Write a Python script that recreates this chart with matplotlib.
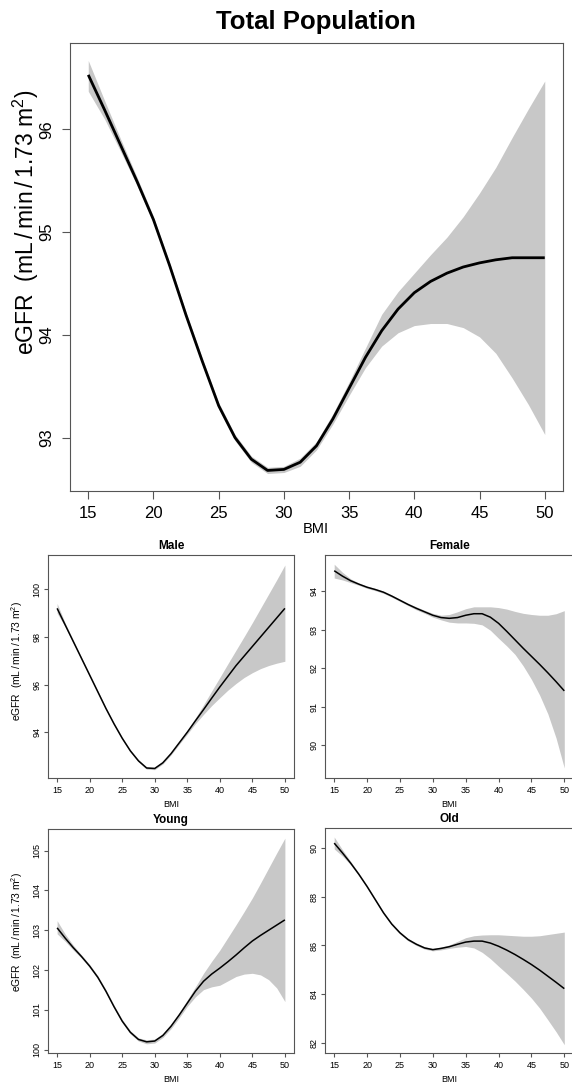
import numpy as np
import matplotlib
matplotlib.use('Agg')
import matplotlib.pyplot as plt

plt.rcParams['font.family'] = ['Liberation Sans', 'DejaVu Sans']
plt.rcParams['mathtext.fontset'] = 'custom'
plt.rcParams['mathtext.rm'] = 'Liberation Sans'

# ---- data (fitted eGFR and its band) ----
bmi = [15, 16.25, 17.5, 18.75, 20, 21.25, 22.5, 23.75, 25, 26.25, 27.5, 28.75, 30,
       31.25, 32.5, 33.75, 35, 36.25, 37.5, 38.75, 40, 41.25, 42.5, 43.75, 45,
       46.25, 47.5, 48.75, 50]

total_fit = [96.53, 96.19, 95.84, 95.49, 95.12, 94.67, 94.19, 93.74, 93.31, 93.00, 92.79, 92.68, 92.69,
             92.76, 92.92, 93.18, 93.48, 93.78, 94.04, 94.25, 94.41, 94.52, 94.60, 94.66, 94.70,
             94.73, 94.75, 94.75, 94.75]
total_hi = [96.67, 96.28, 95.90, 95.53, 95.15, 94.70, 94.22, 93.77, 93.34, 93.03, 92.82, 92.71, 92.72,
            92.80, 92.96, 93.23, 93.54, 93.87, 94.20, 94.42, 94.60, 94.78, 94.95, 95.15, 95.38,
            95.63, 95.92, 96.20, 96.47]
total_lo = [96.37, 96.10, 95.78, 95.45, 95.09, 94.64, 94.16, 93.71, 93.28, 92.97, 92.76, 92.65, 92.66,
            92.72, 92.88, 93.13, 93.41, 93.68, 93.89, 94.02, 94.09, 94.11, 94.11, 94.07, 93.98,
            93.82, 93.58, 93.32, 93.03]

male_fit = [99.20, 98.50, 97.80, 97.10, 96.40, 95.70, 95.00, 94.35, 93.75, 93.22, 92.80, 92.50, 92.48,
            92.72, 93.10, 93.55, 94.00, 94.48, 94.95, 95.43, 95.90, 96.35, 96.80, 97.20, 97.60,
            98.00, 98.40, 98.80, 99.20]
male_hi = [99.41, 98.58, 97.86, 97.15, 96.45, 95.75, 95.05, 94.40, 93.80, 93.27, 92.85, 92.55, 92.53,
           92.77, 93.15, 93.61, 94.08, 94.60, 95.15, 95.73, 96.30, 96.88, 97.45, 98.02, 98.60,
           99.20, 99.80, 100.40, 101.02]
male_lo = [99.00, 98.42, 97.74, 97.05, 96.35, 95.65, 94.95, 94.30, 93.70, 93.17, 92.75, 92.45, 92.43,
           92.67, 93.05, 93.49, 93.92, 94.36, 94.75, 95.12, 95.45, 95.77, 96.05, 96.30, 96.50,
           96.67, 96.80, 96.90, 96.98]

female_fit = [94.54, 94.40, 94.28, 94.19, 94.11, 94.05, 93.98, 93.88, 93.77, 93.66, 93.56, 93.47, 93.38,
              93.32, 93.30, 93.32, 93.38, 93.42, 93.42, 93.33, 93.17, 92.96, 92.74, 92.52, 92.31,
              92.10, 91.88, 91.65, 91.41]
female_hi = [94.71, 94.50, 94.33, 94.22, 94.14, 94.08, 94.01, 93.91, 93.80, 93.69, 93.60, 93.51, 93.43,
             93.38, 93.40, 93.47, 93.55, 93.60, 93.60, 93.60, 93.58, 93.54, 93.48, 93.43, 93.40,
             93.38, 93.38, 93.42, 93.50]
female_lo = [94.35, 94.30, 94.23, 94.16, 94.08, 94.02, 93.95, 93.85, 93.74, 93.63, 93.52, 93.43, 93.33,
             93.26, 93.20, 93.18, 93.18, 93.17, 93.13, 92.99, 92.78, 92.58, 92.36, 92.06, 91.71,
             91.30, 90.81, 90.18, 89.40]

young_fit = [103.06, 102.80, 102.56, 102.34, 102.10, 101.82, 101.47, 101.08, 100.72, 100.44, 100.26, 100.20, 100.22,
             100.36, 100.59, 100.87, 101.17, 101.47, 101.72, 101.90, 102.05, 102.21, 102.38, 102.56, 102.73,
             102.87, 103.00, 103.13, 103.26]
young_hi = [103.24, 102.90, 102.62, 102.38, 102.14, 101.86, 101.51, 101.12, 100.76, 100.48, 100.30, 100.25, 100.27,
            100.41, 100.65, 100.93, 101.25, 101.58, 101.92, 102.22, 102.50, 102.82, 103.14, 103.47, 103.81,
            104.18, 104.56, 104.94, 105.31]
young_lo = [102.91, 102.72, 102.50, 102.30, 102.06, 101.78, 101.43, 101.04, 100.68, 100.40, 100.22, 100.15, 100.17,
            100.31, 100.53, 100.80, 101.09, 101.33, 101.51, 101.58, 101.62, 101.73, 101.84, 101.90, 101.92,
            101.88, 101.76, 101.55, 101.21]

old_fit = [90.20, 89.80, 89.38, 88.92, 88.42, 87.88, 87.34, 86.88, 86.52, 86.24, 86.05, 85.90, 85.83,
           85.88, 85.95, 86.05, 86.14, 86.18, 86.18, 86.10, 85.97, 85.81, 85.63, 85.43, 85.22,
           84.99, 84.74, 84.49, 84.23]
old_hi = [90.45, 89.93, 89.45, 88.97, 88.47, 87.93, 87.39, 86.93, 86.57, 86.29, 86.10, 85.95, 85.88,
          85.94, 86.02, 86.17, 86.32, 86.40, 86.43, 86.44, 86.44, 86.42, 86.40, 86.38, 86.38,
          86.40, 86.45, 86.50, 86.55]
old_lo = [89.96, 89.67, 89.31, 88.87, 88.37, 87.83, 87.29, 86.83, 86.47, 86.19, 86.00, 85.85, 85.78,
          85.82, 85.88, 85.93, 85.96, 85.90, 85.72, 85.46, 85.15, 84.85, 84.54, 84.20, 83.84,
          83.43, 82.95, 82.46, 81.93]

x_ticks = [15, 20, 25, 30, 35, 40, 45, 50]
ylabel = r'eGFR  (mL$\,$/$\,$min$\,$/$\,$1.73 m$^2$)'

W, H = 572, 1084


def box(left, top, right, bottom):
    # pixel box -> figure fraction rect
    return [left / W, 1 - bottom / H, (right - left) / W, (bottom - top) / H]


def fx(px):
    return px / W


def fy(py):
    return 1 - py / H


fig = plt.figure(figsize=(W / 100, H / 100), dpi=100)
fig.patch.set_facecolor('white')


def panel(rect, fit, lo, hi, ylim, yticks, big=False):
    ax = fig.add_axes(rect)
    ax.fill_between(bmi, lo, hi, color='#c8c8c8', lw=0)
    ax.plot(bmi, fit, color='black', lw=2.0 if big else 1.1, solid_capstyle='butt')
    ax.set_xlim(13.6, 51.4)
    ax.set_ylim(*ylim)
    ax.set_xticks(x_ticks)
    ax.set_yticks(yticks)
    ax.tick_params(axis='both', direction='out', color='#555555',
                   length=5.5 if big else 3, width=0.8,
                   labelsize=12 if big else 6.5)
    ax.tick_params(axis='x', pad=5 if big else 2.5)
    ax.tick_params(axis='y', pad=6 if big else 1.5)
    for lab in ax.get_yticklabels():
        lab.set_rotation(90)
        lab.set_va('center')
    for sp in ax.spines.values():
        sp.set_color('#555555')
        sp.set_linewidth(0.8)
    return ax


panel(box(70, 43, 563, 491), total_fit, total_lo, total_hi,
      (92.48, 96.84), [93, 94, 95, 96], big=True)
fig.text(fx(316), fy(22), 'Total Population', fontsize=18.5, fontweight='bold',
         ha='center', va='center')
fig.text(fx(316), fy(529), 'BMI', fontsize=10.5, ha='center', va='center')
fig.text(fx(26), fy(222), ylabel, fontsize=16.5, rotation=90,
         ha='center', va='center')

small = [
    # rect, fit, lo, hi, ylim, yticks, title, ylabel centre (px) or None
    (box(48, 555, 294, 778), male_fit, male_lo, male_hi,
     (92.08, 101.44), [94, 96, 98, 100], 'Male', 661),
    (box(325, 555, 573.5, 778), female_fit, female_lo, female_hi,
     (89.14, 94.95), [90, 91, 92, 93, 94], 'Female', None),
    (box(48, 829, 294, 1053), young_fit, young_lo, young_hi,
     (99.92, 105.54), [100, 101, 102, 103, 104, 105], 'Young', 932),
    (box(325, 828, 573.5, 1053), old_fit, old_lo, old_hi,
     (81.59, 90.82), [82, 84, 86, 88, 90], 'Old', None),
]

for rect, fit, lo, hi, ylim, yticks, title, ylab_y in small:
    ax = panel(rect, fit, lo, hi, ylim, yticks)
    ax.set_title(title, fontsize=8.5, fontweight='bold', pad=4)
    ax.set_xlabel('BMI', fontsize=6.5, labelpad=4)
    if ylab_y is not None:
        fig.text(fx(17), fy(ylab_y), ylabel, fontsize=7.4, rotation=90,
                 ha='center', va='center')

fig.savefig('out.png', dpi=100, facecolor='white')
